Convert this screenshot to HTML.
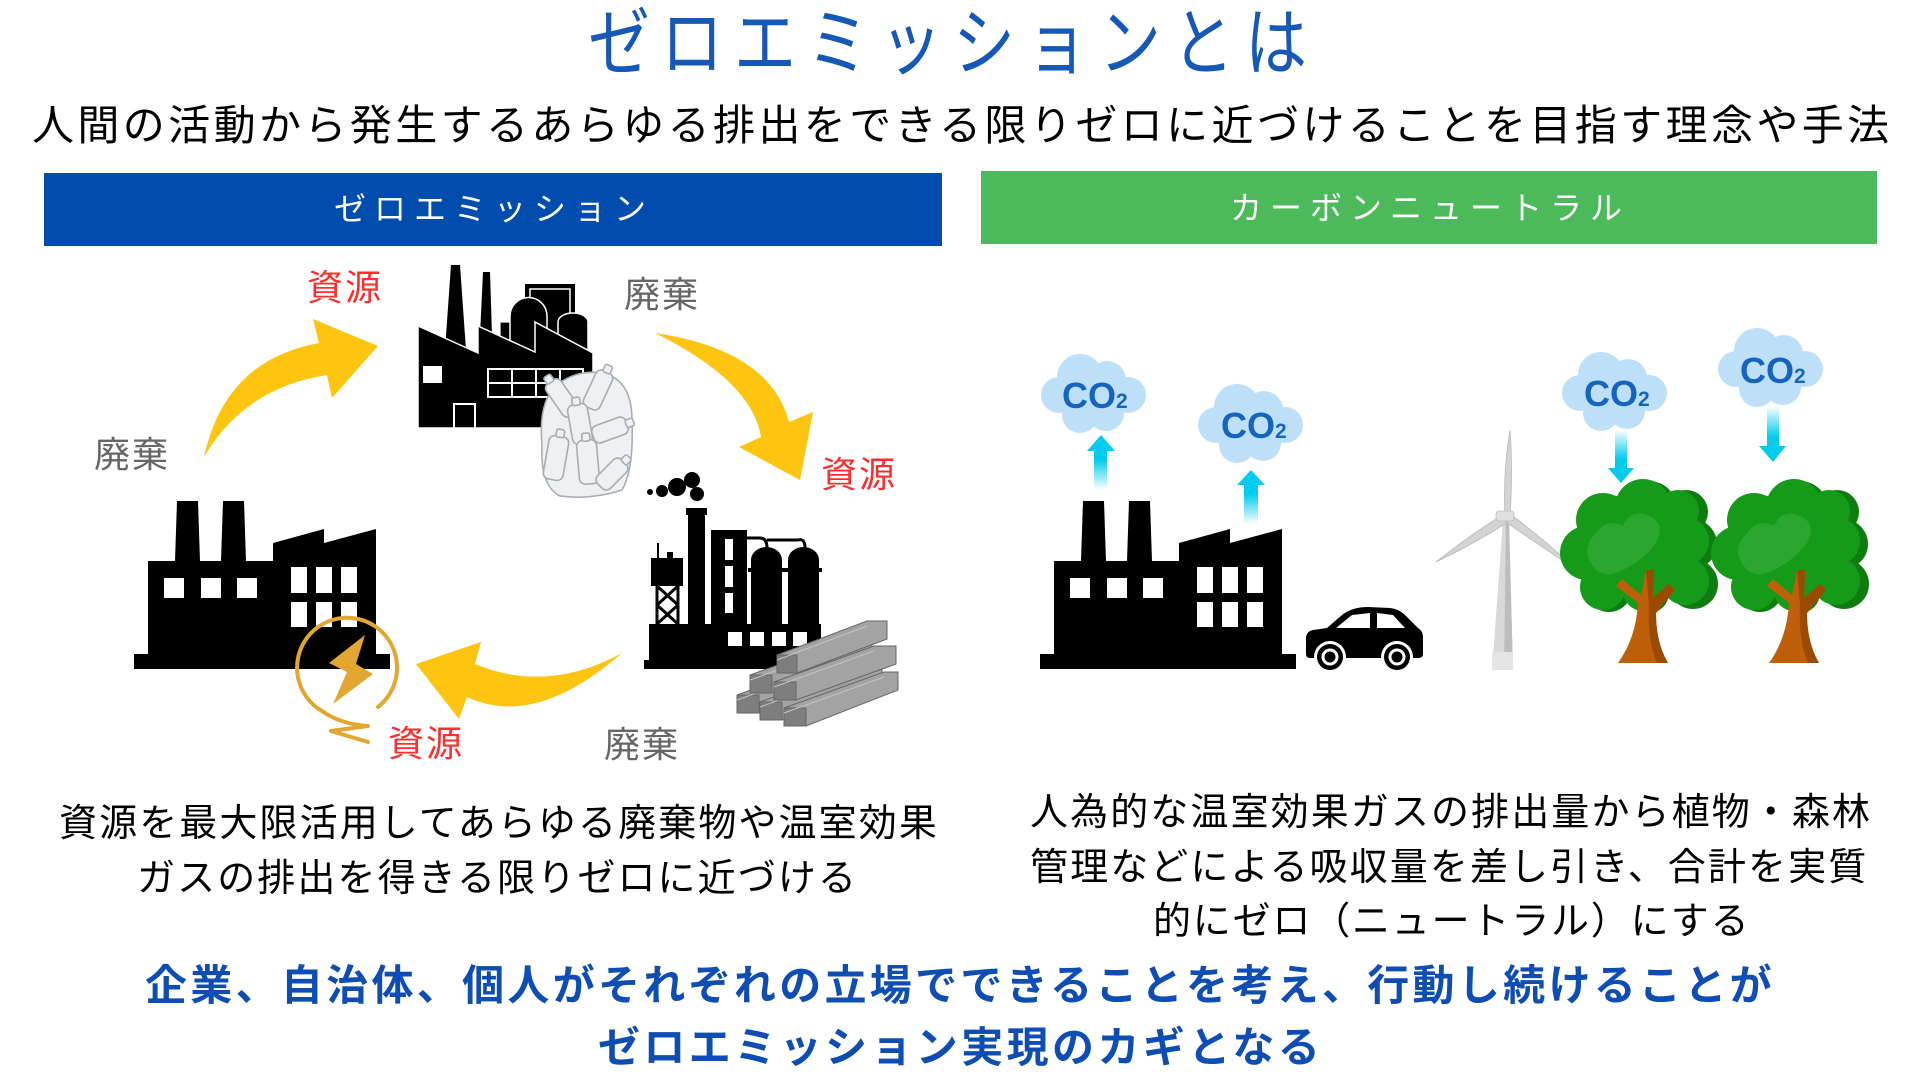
<!DOCTYPE html>
<html><head><meta charset="utf-8">
<style>
html,body{margin:0;padding:0;background:#fff;}
#c{position:relative;width:1920px;height:1080px;overflow:hidden;background:#fff;font-family:"Liberation Sans","Noto Sans CJK JP",sans-serif;}
.t{position:absolute;white-space:nowrap;line-height:1;}
svg{position:absolute;left:0;top:0;}
</style></head><body><div id="c">
<svg width="1920" height="1080" viewBox="0 0 1920 1080">
<defs>
<linearGradient id="gu" x1="0" y1="1" x2="0" y2="0"><stop offset="0" stop-color="#fff"/><stop offset="0.55" stop-color="#00CDEE"/><stop offset="1" stop-color="#00CDEE"/></linearGradient>
<linearGradient id="gd" x1="0" y1="0" x2="0" y2="1"><stop offset="0" stop-color="#fff"/><stop offset="0.55" stop-color="#00CDEE"/><stop offset="1" stop-color="#00CDEE"/></linearGradient>
<g id="fac">
<rect x="134" y="654" width="256" height="15" fill="#000"/>
<polygon fill="#000" points="148,654 148,561 175,561 177,501 198,501 200,561 221,561 223,501 244,501 246,561 273,561 273,543 324,529 324,543 376,529 376,654"/>
<g fill="#fff">
<rect x="164" y="578" width="20" height="20"/><rect x="201" y="578" width="20" height="20"/><rect x="237" y="578" width="20" height="20"/>
<rect x="291" y="567" width="16" height="26"/><rect x="316" y="567" width="16" height="26"/><rect x="341" y="567" width="16" height="26"/>
<rect x="291" y="602" width="16" height="25"/><rect x="316" y="602" width="16" height="25"/><rect x="341" y="602" width="16" height="25"/>
</g>
</g>
<g id="cloud" fill="#BEDFF8">
<circle cx="19" cy="42" r="18"/><circle cx="40" cy="24" r="23"/><circle cx="67" cy="27" r="19"/><circle cx="88" cy="42" r="18"/>
<circle cx="40" cy="62" r="18"/><circle cx="66" cy="60" r="18"/><circle cx="54" cy="42" r="25"/>
</g>
<g id="tree">
<g fill="#0E7D10">
<circle cx="88" cy="31" r="28"/><circle cx="48" cy="44" r="27"/><circle cx="32" cy="77" r="27"/><circle cx="48" cy="111" r="23"/><circle cx="88" cy="115" r="20"/><circle cx="132" cy="106" r="25"/><circle cx="131" cy="66" r="25"/><circle cx="125" cy="34" r="22"/><circle cx="82" cy="74" r="48"/>
</g>
<g fill="#169A1A">
<circle cx="82" cy="29" r="28"/><circle cx="42" cy="42" r="27"/><circle cx="26" cy="75" r="27"/><circle cx="42" cy="109" r="23"/><circle cx="82" cy="113" r="20"/><circle cx="124" cy="103" r="24"/><circle cx="124" cy="63" r="24"/><circle cx="117" cy="33" r="21"/><circle cx="76" cy="72" r="48"/>
</g>
<path fill="#2BA62F" d="M30,85 Q20,70 35,55 Q45,40 62,48 Q70,30 88,38 Q105,45 95,65 Q80,85 55,95 Q38,100 30,85 Z"/>
<path fill="#BE600A" d="M57,185 Q75,160 77,125 L55,108 L61,101 L80,117 L85,92 L93,92 L92,120 L108,106 L114,112 L95,135 Q95,165 107,185 Z"/>
<path fill="#9A4B00" d="M85,92 L93,92 L92,120 L108,106 L114,112 L95,135 Q95,165 107,185 L96,185 Q86,160 88,128 Z"/>
</g>
</defs>

<!-- bars -->
<rect x="44" y="173" width="898" height="73" fill="#004DAE"/>
<rect x="981" y="171" width="896" height="73" fill="#4CB95A"/>

<!-- yellow arrows -->
<path fill="#FDC410" d="M204,457 Q225,360 319,343 L313,319 L378,346 L332,398 L327,375 Q244,388 204,457 Z"/>
<path fill="#FDC410" d="M655,333 Q770,350 789,422 L813,412 L800,480 L739,447 L761,437 Q752,381 655,333 Z"/>
<path fill="#FDC410" d="M622,653 Q547,694 475,664 L481,642 L416,664 L459,719 L467,697 Q535,729 622,653 Z"/>

<!-- top factory -->
<g>
<rect x="525" y="284" width="50" height="70" fill="#000"/>
<rect x="530" y="289" width="40" height="60" fill="none" stroke="#fff" stroke-width="1.5"/>
<rect x="500" y="322" width="12" height="30" fill="#000" stroke="#fff" stroke-width="1.2"/>
<path d="M510,360 V316 A18.5,18.5 0 0 1 547,316 V360 Z" fill="#000" stroke="#fff" stroke-width="1.5"/>
<path d="M558,360 V322 A15,9 0 0 1 588,322 V360 Z" fill="#000" stroke="#fff" stroke-width="1.5"/>
<polygon fill="#000" points="451,265 460,265 466,350 445,350"/>
<polygon fill="#000" points="483,272 490,272 492,335 480,335"/>
<polygon fill="#000" stroke="#fff" stroke-width="1.5" points="418,428 418,326 478,353 478,326 535,352 535,322 593,353 593,428"/>
<rect x="423" y="366" width="19" height="17" fill="#fff"/>
<g fill="none" stroke="#fff" stroke-width="2">
<rect x="488" y="369" width="95" height="28"/>
<line x1="512" y1="369" x2="512" y2="397"/><line x1="536" y1="369" x2="536" y2="397"/><line x1="560" y1="369" x2="560" y2="397"/>
<line x1="488" y1="383" x2="583" y2="383"/>
<rect x="454" y="404" width="21" height="25"/>
</g>
</g>
<!-- bottles -->
<g fill="#EEF0F2" stroke="#A7AEB6" stroke-width="1.6">
<path d="M542,445 Q538,400 558,384 Q580,368 606,374 Q632,382 632,420 Q634,470 622,490 Q592,500 560,496 Q540,486 542,445 Z"/>
<g transform="translate(562,398) rotate(-35)"><rect x="-9" y="-20" width="18" height="40" rx="6"/><rect x="-4" y="-27" width="8" height="8" rx="2"/></g>
<g transform="translate(598,390) rotate(25)"><rect x="-9" y="-20" width="18" height="40" rx="6"/><rect x="-4" y="-27" width="8" height="8" rx="2"/></g>
<g transform="translate(610,430) rotate(70)"><rect x="-9" y="-18" width="18" height="36" rx="6"/><rect x="-4" y="-25" width="8" height="8" rx="2"/></g>
<g transform="translate(580,424) rotate(-10)"><rect x="-10" y="-20" width="20" height="40" rx="6"/><rect x="-4" y="-27" width="8" height="8" rx="2"/></g>
<g transform="translate(556,458) rotate(10)"><rect x="-10" y="-22" width="20" height="44" rx="6"/><rect x="-4" y="-29" width="8" height="8" rx="2"/></g>
<g transform="translate(588,462) rotate(-5)"><rect x="-10" y="-22" width="20" height="44" rx="6"/><rect x="-4" y="-29" width="8" height="8" rx="2"/></g>
<g transform="translate(612,474) rotate(45)"><rect x="-9" y="-17" width="18" height="34" rx="6"/><rect x="-4" y="-24" width="8" height="8" rx="2"/></g>
</g>

<!-- middle right factory -->
<g fill="#000">
<circle cx="650" cy="492" r="3"/><circle cx="662" cy="491" r="6"/><circle cx="677" cy="487" r="9"/><circle cx="692" cy="480" r="8"/><circle cx="697" cy="494" r="7"/>
<rect x="686" y="508" width="21" height="7"/><rect x="688" y="515" width="17" height="110"/>
<rect x="651" y="558" width="32" height="28"/><rect x="657" y="543" width="2" height="16"/><rect x="667" y="552" width="6" height="7"/>
<rect x="711" y="530" width="36" height="95"/>
<path d="M751,625 V560 A15.5,13 0 0 1 782,560 V625 Z"/><rect x="748" y="568" width="37" height="4"/>
<path d="M788,625 V560 A15.5,13 0 0 1 819,560 V625 Z"/><rect x="785" y="568" width="37" height="4"/>
<rect x="649" y="624" width="172" height="36"/>
<rect x="644" y="660" width="177" height="9"/>
</g>
<g fill="none" stroke="#000" stroke-width="3">
<path d="M747,538 H760 Q767,538 767,548"/><path d="M767,540 H798 Q805,538 805,548"/>
<line x1="657" y1="586" x2="657" y2="624"/><line x1="678" y1="586" x2="678" y2="624"/>
<line x1="657" y1="586" x2="678" y2="605"/><line x1="678" y1="586" x2="657" y2="605"/>
<line x1="657" y1="605" x2="678" y2="624"/><line x1="678" y1="605" x2="657" y2="624"/>
</g>
<g fill="#fff">
<rect x="725" y="539" width="8" height="21"/><rect x="725" y="566" width="8" height="21"/><rect x="725" y="593" width="8" height="20"/>
<rect x="728" y="632" width="14" height="14"/><rect x="750" y="632" width="14" height="14"/><rect x="772" y="632" width="14" height="14"/><rect x="793" y="632" width="14" height="14"/>
</g>
<!-- steel beams -->
<g stroke="#666" stroke-width="1">
<g><polygon fill="#A3A3A3" points="737,713 737,695 837,659 859,659 859,677 759,713"/><polygon fill="#7E7E7E" points="737,695 759,695 759,713 737,713"/><line x1="737" y1="700" x2="837" y2="664" stroke="#C4C4C4"/></g>
<g><polygon fill="#A3A3A3" points="760,720 760,702 860,666 882,666 882,684 782,720"/><polygon fill="#7E7E7E" points="760,702 782,702 782,720 760,720"/><line x1="760" y1="707" x2="860" y2="671" stroke="#C4C4C4"/></g>
<g><polygon fill="#A3A3A3" points="784,726 784,708 884,672 898,672 898,690 806,726"/><polygon fill="#7E7E7E" points="784,708 806,708 806,726 784,726"/><line x1="784" y1="713" x2="884" y2="677" stroke="#C4C4C4"/></g>
<g><polygon fill="#A3A3A3" points="750,693 750,675 850,639 872,639 872,657 772,693"/><polygon fill="#7E7E7E" points="750,675 772,675 772,693 750,693"/><line x1="750" y1="680" x2="850" y2="644" stroke="#C4C4C4"/></g>
<g><polygon fill="#A3A3A3" points="774,700 774,682 874,646 896,646 896,664 796,700"/><polygon fill="#7E7E7E" points="774,682 796,682 796,700 774,700"/><line x1="774" y1="687" x2="874" y2="651" stroke="#C4C4C4"/></g>
<g><polygon fill="#A3A3A3" points="777,673 777,655 867,621 887,621 887,639 797,673"/><polygon fill="#7E7E7E" points="777,655 797,655 797,673 777,673"/><line x1="777" y1="660" x2="867" y2="626" stroke="#C4C4C4"/></g>
</g>

<!-- left factory -->
<use href="#fac"/>
<!-- lightning -->
<path d="M378,707 A50,50 0 1 0 322,711 Q340,724 368,726 L331,731 L368,742" fill="none" stroke="#E2A730" stroke-width="4" stroke-linecap="round" stroke-linejoin="round"/>
<polygon fill="#E2A730" points="365,635 329,663 347,672 333,704 373,674 356,664"/>

<!-- right side -->
<use href="#fac" transform="translate(906,0)"/>
<!-- car -->
<path fill="#000" d="M1306,654 L1306,637 Q1307,631 1313,630 L1327,628 L1342,615 Q1352,607 1368,607 L1390,608 Q1400,609 1407,617 L1418,628 Q1423,631 1423,637 L1423,654 Q1423,658 1418,658 L1310,658 Q1306,658 1306,654 Z"/>
<polygon fill="#fff" points="1336,628 1352,615 1370,613 1370,628"/>
<polygon fill="#fff" points="1377,613 1393,615 1405,628 1377,628"/>
<g><circle cx="1330" cy="657" r="16" fill="#fff"/><circle cx="1330" cy="657" r="13" fill="#000"/><circle cx="1330" cy="657" r="8.5" fill="#fff"/><circle cx="1330" cy="657" r="5.5" fill="#000"/></g>
<g><circle cx="1397" cy="657" r="16" fill="#fff"/><circle cx="1397" cy="657" r="13" fill="#000"/><circle cx="1397" cy="657" r="8.5" fill="#fff"/><circle cx="1397" cy="657" r="5.5" fill="#000"/></g>

<!-- windmill -->
<polygon fill="#D9D9D9" points="1503,520 1509,520 1513,670 1492,670"/>
<polygon fill="#BDBDBD" points="1506,520 1509,520 1513,670 1504,670"/>
<rect x="1492" y="652" width="21" height="18" fill="#E4E4E4"/>
<path fill="#D4D4D4" stroke="#B8B8B8" stroke-width="0.8" d="M1505,517 Q1503,470 1510,430 Q1513,470 1510,517 Z"/>
<path fill="#D4D4D4" stroke="#B8B8B8" stroke-width="0.8" d="M1504,514 Q1470,535 1436,562 Q1472,545 1508,522 Z"/>
<path fill="#D4D4D4" stroke="#B8B8B8" stroke-width="0.8" d="M1510,514 Q1545,540 1577,570 Q1543,548 1506,522 Z"/>
<rect x="1496" y="511" width="18" height="10" rx="3" fill="#E0E0E0" stroke="#BDBDBD" stroke-width="0.8"/>

<!-- trees -->
<use href="#tree" transform="translate(1561,478)"/>
<use href="#tree" transform="translate(1712,478)"/>

<!-- clouds -->
<use href="#cloud" transform="translate(1040,353)"/>
<use href="#cloud" transform="translate(1197,383)"/>
<use href="#cloud" transform="translate(1561,351)"/>
<use href="#cloud" transform="translate(1717,327)"/>
<g fill="#1565C0" font-family="Liberation Sans, sans-serif" font-weight="bold">
<text x="1062" y="408" font-size="36">CO</text><text x="1116" y="408" font-size="21">2</text>
<text x="1221" y="438" font-size="36">CO</text><text x="1275" y="438" font-size="21">2</text>
<text x="1584" y="406" font-size="36">CO</text><text x="1638" y="406" font-size="21">2</text>
<text x="1740" y="383" font-size="36">CO</text><text x="1794" y="383" font-size="21">2</text>
</g>
<!-- cyan arrows -->
<path fill="url(#gu)" d="M1101,435 L1115,451 L1107,451 L1107,490 L1094,490 L1094,451 L1087,451 Z"/>
<path fill="url(#gu)" d="M1251,470 L1265,485 L1258,485 L1258,524 L1244,524 L1244,485 L1237,485 Z"/>
<path fill="url(#gd)" d="M1615,430 L1627,430 L1627,468 L1634,468 L1621,483 L1608,468 L1615,468 Z"/>
<path fill="url(#gd)" d="M1767,406 L1779,406 L1779,446 L1786,446 L1773,462 L1759,446 L1767,446 Z"/>
</svg>

<div class="t" style="left:588px;top:8px;font-size:62px;letter-spacing:11px;color:#1558B8;transform:scaleY(1.2);transform-origin:0 0;">ゼロエミッションとは</div>
<div class="t" style="left:32px;top:105px;font-size:42px;letter-spacing:3.4px;color:#000;">人間の活動から発生するあらゆる排出をできる限りゼロに近づけることを目指す理念や手法</div>
<div class="t" style="left:334px;top:193px;font-size:32px;letter-spacing:8px;color:#fff;">ゼロエミッション</div>
<div class="t" style="left:1230px;top:192px;font-size:32px;letter-spacing:8px;color:#fff;">カーボンニュートラル</div>

<div class="t" style="left:307px;top:270px;font-size:36px;letter-spacing:2px;color:#FF2E2E;">資源</div>
<div class="t" style="left:821px;top:457px;font-size:36px;letter-spacing:2px;color:#FF2E2E;">資源</div>
<div class="t" style="left:388px;top:726px;font-size:36px;letter-spacing:2px;color:#FF2E2E;">資源</div>
<div class="t" style="left:94px;top:437px;font-size:36px;letter-spacing:2px;color:#666;">廃棄</div>
<div class="t" style="left:624px;top:277px;font-size:36px;letter-spacing:2px;color:#666;">廃棄</div>
<div class="t" style="left:604px;top:727px;font-size:36px;letter-spacing:2px;color:#666;">廃棄</div>

<div class="t" style="left:59px;top:805px;font-size:38px;letter-spacing:2.1px;color:#000;">資源を最大限活用してあらゆる廃棄物や温室効果</div>
<div class="t" style="left:137px;top:860px;font-size:38px;letter-spacing:2.1px;color:#000;">ガスの排出を得きる限りゼロに近づける</div>

<div class="t" style="left:1030px;top:794px;font-size:38px;letter-spacing:2.1px;color:#000;">人為的な温室効果ガスの排出量から植物・森林</div>
<div class="t" style="left:1030px;top:849px;font-size:38px;letter-spacing:2.1px;color:#000;">管理などによる吸収量を差し引き、合計を実質</div>
<div class="t" style="left:1153px;top:903px;font-size:38px;letter-spacing:1.8px;color:#000;">的にゼロ（ニュートラル）にする</div>

<div class="t" style="left:145px;top:965px;font-size:42px;letter-spacing:3.3px;color:#0E4DB3;font-weight:bold;">企業、自治体、個人がそれぞれの立場でできることを考え、行動し続けることが</div>
<div class="t" style="left:598px;top:1027px;font-size:42px;letter-spacing:3.4px;color:#0E4DB3;font-weight:bold;">ゼロエミッション実現のカギとなる</div>
</div></body></html>
